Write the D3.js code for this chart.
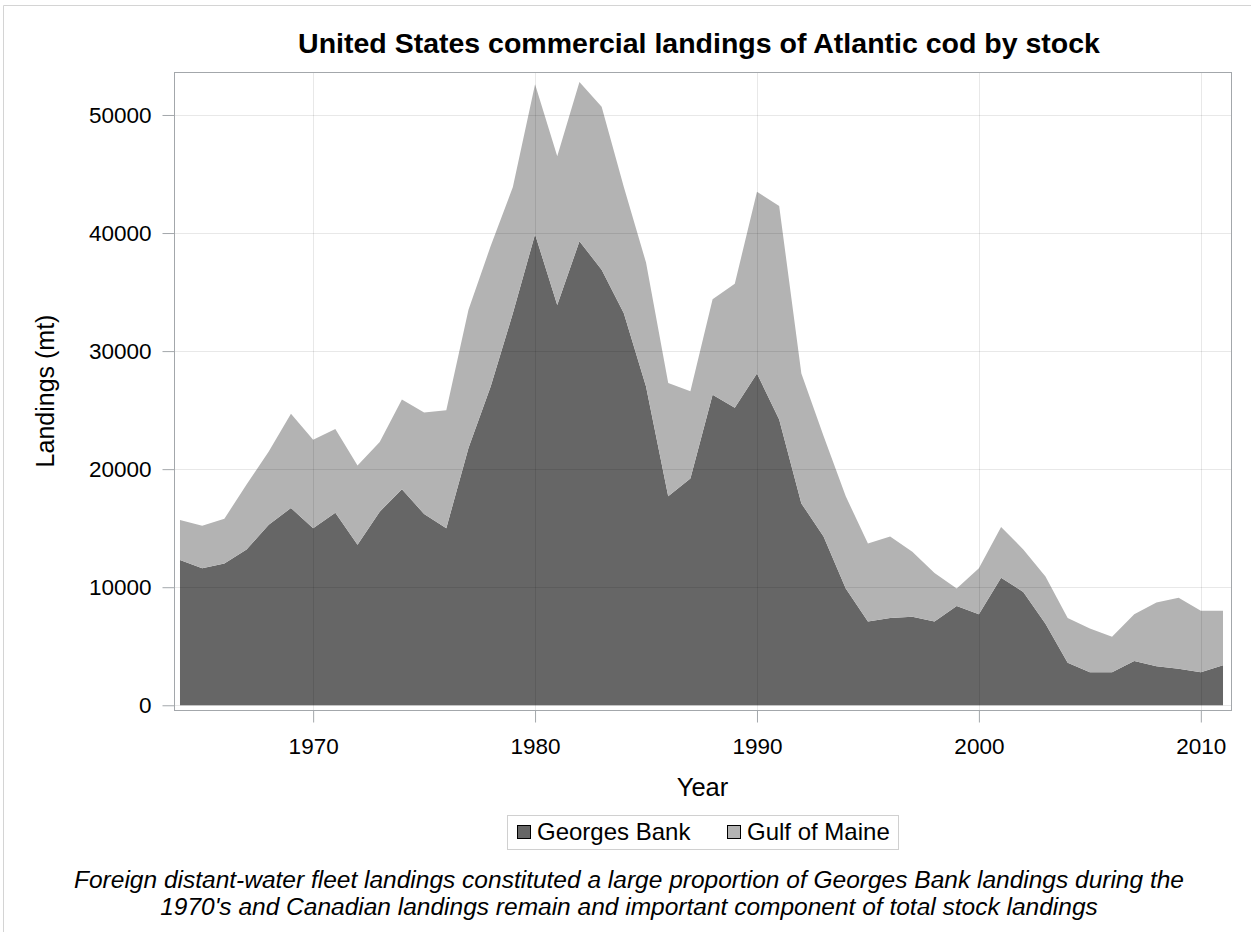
<!DOCTYPE html>
<html>
<head>
<meta charset="utf-8">
<script src="https://cdn.jsdelivr.net/npm/d3@7"></script>
<style>
  body { margin: 0; background: #fff; }
  text { font-family: "Liberation Sans", Arial, sans-serif; fill: #000; }
</style>
</head>
<body>
<script>
// landings in metric tons
let years = d3.range(1964, 2012);
let georgesBank = [12300, 11600, 12000, 13200, 15300, 16700, 15000, 16300, 13600, 16400,
  18300, 16200, 15000, 21800, 27000, 33200, 39900, 33900, 39300, 36900,
  33200, 27000, 17700, 19200, 26300, 25200, 28100, 24200, 17100, 14300,
  9900, 7100, 7400, 7500, 7100, 8400, 7700, 10800, 9600, 6900,
  3600, 2800, 2800, 3750, 3300, 3100, 2800, 3400];
let gulfOfMaine = [3400, 3600, 3800, 5500, 6200, 8000, 7500, 7100, 6700, 5900,
  7600, 8600, 10000, 11700, 11900, 10700, 12700, 12600, 13500, 13800,
  10700, 10500, 9600, 7400, 8100, 10500, 15400, 18100, 11000, 8500,
  7800, 6600, 6900, 5500, 4100, 1500, 3900, 4300, 3600, 4000,
  3800, 3700, 3000, 3950, 5400, 6000, 5200, 4600];
let seriesNames = ["Georges Bank", "Gulf of Maine"];
let seriesColors = ["#666666", "#b3b3b3"];
let yTicks = [0, 10000, 20000, 30000, 40000, 50000];
let xTicks = [1970, 1980, 1990, 2000, 2010];

let width = 1251;
let height = 938;
let margin = { top: 72, right: 20, bottom: 228, left: 174 };
let plotRight = 1231;
let plotBottom = 710;

let svg = d3.select("body").append("svg")
	.attr("width", width)
	.attr("height", height);

// outer frame (top and left edges are visible)
svg.append("line").attr("x1", 3.5).attr("x2", width).attr("y1", 5.5).attr("y2", 5.5)
	.attr("stroke", "#d4d4d4");
svg.append("line").attr("x1", 3.5).attr("x2", 3.5).attr("y1", 5.5).attr("y2", 932)
	.attr("stroke", "#d4d4d4");

let x = d3.scaleLinear().domain([1963.73, 2011.36]).range([margin.left, plotRight]);
let y = d3.scaleLinear().domain([-400, 53640]).range([plotBottom, margin.top]);

let table = years.map((yr, i) => ({ year: yr, "Georges Bank": georgesBank[i], "Gulf of Maine": gulfOfMaine[i] }));
let stacked = d3.stack().keys(seriesNames)(table);

let area = d3.area()
	.x(d => x(d.data.year))
	.y0(d => y(d[0]))
	.y1(d => y(d[1]));

svg.append("g").selectAll("path")
	.data(stacked)
	.enter()
	.append("path")
	.attr("d", area)
	.attr("fill", (d, i) => seriesColors[i]);

// grid drawn on top, semi transparent
let grid = svg.append("g").attr("stroke", "rgba(0,0,0,0.09)").attr("stroke-width", 1);
grid.selectAll(".hg").data(yTicks).enter().append("line")
	.attr("x1", margin.left).attr("x2", plotRight)
	.attr("y1", d => Math.round(y(d)) + 0.5).attr("y2", d => Math.round(y(d)) + 0.5);
grid.selectAll(".vg").data(xTicks).enter().append("line")
	.attr("y1", margin.top).attr("y2", plotBottom)
	.attr("x1", d => Math.round(x(d)) + 0.5).attr("x2", d => Math.round(x(d)) + 0.5);

// frame
svg.append("rect")
	.attr("x", margin.left + 0.5).attr("y", margin.top + 0.5)
	.attr("width", plotRight - margin.left).attr("height", plotBottom - margin.top)
	.attr("fill", "none").attr("stroke", "#a3a7ab");

// axes
let yAxis = svg.append("g")
	.attr("transform", `translate(${margin.left + 0.5},0)`)
	.call(d3.axisLeft(y).tickValues(yTicks).tickSize(12).tickPadding(11).tickFormat(d3.format("d")));
let xAxis = svg.append("g")
	.attr("transform", `translate(0,${plotBottom + 0.5})`)
	.call(d3.axisBottom(x).tickValues(xTicks).tickSize(12).tickPadding(16).tickFormat(d3.format("d")));
[xAxis, yAxis].forEach(a => {
	a.select(".domain").remove();
	a.selectAll(".tick line").attr("stroke", "#a3a7ab");
	a.selectAll(".tick text").style("font-size", "22.5px").style("font-family", "Liberation Sans, Arial, sans-serif").attr("fill", "#000");
});

let cx = (margin.left + plotRight) / 2;

svg.append("text")
	.text("United States commercial landings of Atlantic cod by stock")
	.attr("x", 699).attr("y", 53)
	.attr("text-anchor", "middle")
	.style("font-size", "28.5px").style("font-weight", "bold");

svg.append("text")
	.text("Year")
	.attr("x", cx).attr("y", 796)
	.attr("text-anchor", "middle")
	.style("font-size", "25.5px");

svg.append("text")
	.text("Landings (mt)")
	.attr("transform", `translate(54,${(margin.top + plotBottom) / 2}) rotate(-90)`)
	.attr("text-anchor", "middle")
	.style("font-size", "25px");

// legend
let legend = svg.append("g");
legend.append("rect")
	.attr("x", 507.5).attr("y", 815.5).attr("width", 391).attr("height", 34)
	.attr("fill", "none").attr("stroke", "#d0d0d0");
let legendX = [517, 727];
seriesNames.forEach((name, i) => {
	legend.append("rect")
		.attr("x", legendX[i] + 0.5).attr("y", 825.5).attr("width", 13).attr("height", 13)
		.attr("fill", seriesColors[i]).attr("stroke", "#000");
	legend.append("text")
		.text(name)
		.attr("x", legendX[i] + 20).attr("y", 840)
		.style("font-size", "24px");
});

// footnote
let notes = ["Foreign distant-water fleet landings constituted a large proportion of Georges Bank landings during the",
	"1970's and Canadian landings remain and important component of total stock landings"];
svg.selectAll(".note").data(notes).enter().append("text")
	.attr("class", "note")
	.text(d => d)
	.attr("x", 629).attr("y", (d, i) => 888 + i * 27)
	.attr("text-anchor", "middle")
	.style("font-size", "24.5px").style("font-style", "italic");
</script>
</body>
</html>
